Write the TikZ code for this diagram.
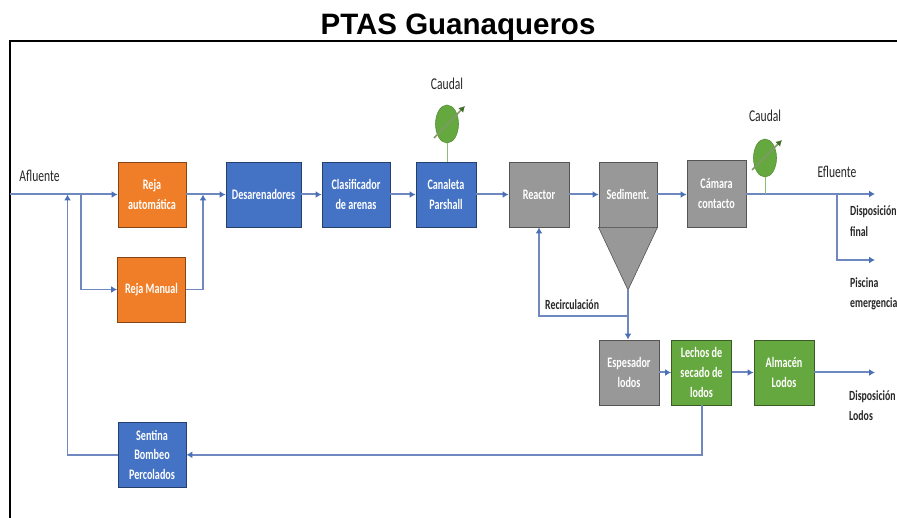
\documentclass[tikz,border=0pt]{standalone}
\usepackage{fontspec}
\setmainfont{Liberation Sans}
\newfontfamily\lab[FakeStretch=0.7]{Carlito}
\usetikzlibrary{arrows.meta,shapes.geometric,calc}
\definecolor{cflow}{HTML}{7088C0}
\definecolor{ctip}{HTML}{4A70B8}
\definecolor{corangeb}{HTML}{F07D28}
\definecolor{cblueb}{HTML}{4472C4}
\definecolor{cgrayb}{HTML}{989898}
\definecolor{cgreenb}{HTML}{66A840}
\definecolor{cneedle}{HTML}{7F9A68}
\tikzset{
  box/.style={draw=#1!55!black,line width=0.9pt,fill=#1,text=white,inner sep=0pt,
    align=center,font=\lab\bfseries\fontsize{14.5}{19.6}\selectfont},
  org/.style={box=corangeb},
  blu/.style={box=cblueb},
  gry/.style={box=cgrayb},
  grn/.style={box=cgreenb},
  flow/.style={draw=cflow,line width=2pt,-{Latex[length=6pt,width=7pt,color=ctip]}},
  thinflow/.style={draw=cflow,line width=1.5pt,-{Latex[length=6pt,width=7pt,color=ctip]}},
  lbl/.style={inner sep=0pt,align=left,text=black!85,font=\lab\fontsize{16.5}{20.5}\selectfont},
  smalllbl/.style={inner sep=0pt,align=left,text=black!85,font=\lab\bfseries\fontsize{14}{20.5}\selectfont},
  meter/.style={ellipse,draw=cgreenb!85!black,fill=cgreenb,line width=0.6pt,minimum width=23pt,minimum height=38pt,inner sep=0pt},
  stem/.style={draw=cgreenb!75!white,line width=1pt},
  needle/.style={draw=cneedle,line width=1.5pt,-{Latex[length=6pt,width=7pt,color=black!35!cgreenb]}},
}
\begin{document}
\begin{tikzpicture}[x=1pt,y=-1pt]
\useasboundingbox (0,0) rectangle (897,518);
\fill[white] (0,0) rectangle (897,518);
\draw[black,line width=1.7pt] (9.7,518) -- (9.7,41) -- (897,41);
\node[inner sep=0pt,font=\bfseries\fontsize{29.5}{32}\selectfont] (title) at (458,27) {PTAS Guanaqueros};

% boxes: all given by centre and size
\node[org,minimum width=68pt,minimum height=65pt] (raut) at (152,194.5) {Reja\\automática};
\node[org,minimum width=68pt,minimum height=65pt] (rman) at (151.5,289.5) {Reja Manual};
\node[blu,minimum width=75pt,minimum height=65pt] (des) at (263.5,194.5) {Desarenadores};
\node[blu,minimum width=68pt,minimum height=65pt] (cla) at (356,194.5) {Clasificador\\de arenas};
\node[blu,minimum width=60pt,minimum height=65pt] (can) at (446,194.5) {Canaleta\\Parshall};
\node[gry,minimum width=60pt,minimum height=65pt] (rea) at (539,194.5) {Reactor};
\node[gry,minimum width=58pt,minimum height=65pt] (sed) at (628,194.5) {Sediment.};
\node[gry,minimum width=59pt,minimum height=67pt] (cam) at (716.5,193.5) {Cámara\\contacto};
\node[gry,minimum width=60pt,minimum height=65pt] (esp) at (629,372.5) {Espesador\\lodos};
\node[grn,minimum width=60pt,minimum height=65pt] (lec) at (701.5,372.5) {Lechos de\\secado de\\lodos};
\node[grn,minimum width=60pt,minimum height=65pt] (alm) at (784,372.5) {Almacén\\Lodos};
\node[blu,minimum width=68pt,minimum height=65pt] (sen) at (152,454.8) {Sentina\\Bombeo\\Percolados};
% hopper
\coordinate (hopL) at (sed.south west);
\coordinate (hopR) at (sed.south east);
\coordinate (apex) at (628,290);
\draw[fill=cgrayb,draw=cgrayb!55!black,line width=0.6pt] (hopL) -- (hopR) -- (apex) -- cycle;

% free ends and junctions
\coordinate (inlet) at (10,194.5);
\coordinate (jret) at (67.5,194.5);
\coordinate (jman) at (81,194.5);
\coordinate (jout) at (203,194.5);
\coordinate (jeff) at (837,194);
\coordinate (eff) at (875,194);
\coordinate (pis) at (875,260);
\coordinate (dlod) at (875,372.5);
\coordinate (jrec) at (628,316);

% connectors
\draw[flow] (inlet) -- (raut.west);
\draw[thinflow] (sen.west) -| (jret);
\draw[thinflow] (jman) |- (rman.west);
\draw[flow] (raut.east) -- (des.west);
\draw[thinflow] (rman.east) -| (jout);
\draw[flow] (des.east) -- (cla.west);
\draw[flow] (cla.east) -- (can.west);
\draw[flow] (can.east) -- (rea.west);
\draw[flow] (rea.east) -- (sed.west);
\draw[flow] (sed.east) -- (cam.west |- sed.east);
\draw[thinflow] (cam.east |- eff) -- (eff);
\draw[thinflow] (jeff) |- (pis);
\draw[thinflow] (apex) -- (esp.north -| apex);
\draw[thinflow] (jrec) -| (rea.south);
\draw[flow] (esp.east) -- (lec.west);
\draw[flow] (lec.east) -- (alm.west);
\draw[flow] (alm.east) -- (dlod);
\draw[flow] (lec.south) |- (sen.east);

% flow meters
\node[meter] (m1) at (447,124) {};
\node[meter] (m2) at (765,158) {};
\coordinate (m1a) at (434,138);
\coordinate (m1b) at (465,106);
\coordinate (m2a) at (752,170);
\coordinate (m2b) at (782,140);
\draw[needle] (m1a) -- (m1b);
\draw[needle] (m2a) -- (m2b);
\draw[stem] (m1.south) -- (m1.south |- can.north);
\draw[stem] (m2.south) -- (m2.south |- eff);

% labels
\node[lbl] (tafl) at (39.5,176) {Afluente};
\node[lbl] (tc1) at (447,84) {Caudal};
\node[lbl] (tc2) at (765,116) {Caudal};
\node[lbl] (tef) at (837,172) {Efluente};
\node[smalllbl,anchor=west] (tdf) at (850,221) {Disposición\\final};
\node[smalllbl,anchor=west] (tpe) at (850,294) {Piscina\\emergencia};
\node[smalllbl,anchor=west] (tre) at (545,305) {Recirculación};
\node[smalllbl,anchor=west] (tdl) at (849,405.5) {Disposición\\Lodos};
\end{tikzpicture}
\end{document}
